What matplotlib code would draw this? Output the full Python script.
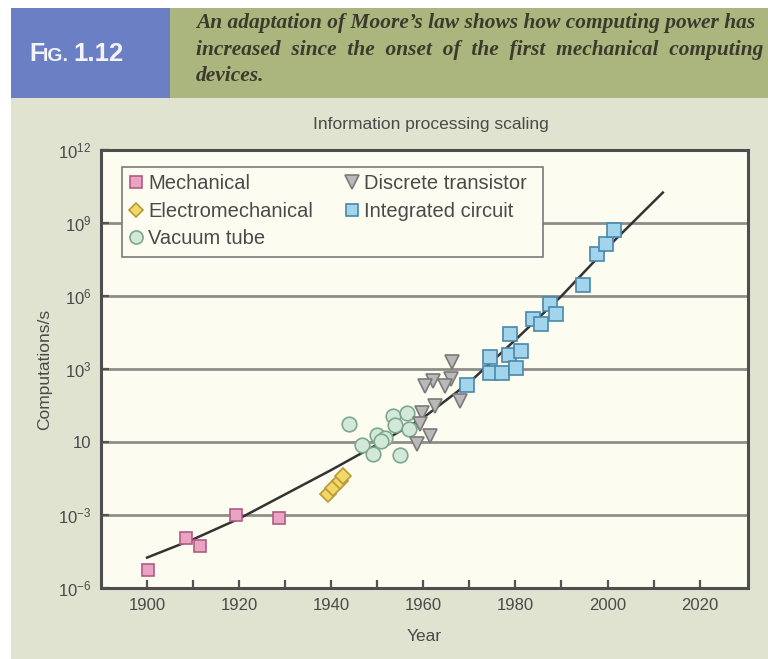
import numpy as np
import matplotlib
matplotlib.use("Agg")
import matplotlib.pyplot as plt
from matplotlib.patches import Rectangle

plt.rcParams['font.family'] = ['Liberation Sans', 'DejaVu Sans']
plt.rcParams['mathtext.fontset'] = 'custom'
plt.rcParams['mathtext.rm'] = 'Liberation Sans'
plt.rcParams['mathtext.it'] = 'Liberation Sans'

# ---- data (log10 of computations/s) ----
mech_year = [1900.1, 1908.5, 1911.5, 1919.3, 1928.7]
mech_log = [-5.26, -3.93, -4.27, -2.99, -3.14]

electro_year = [1939.4, 1940.3, 1942.0, 1942.5]
electro_log = [-2.15, -1.88, -1.60, -1.40]

tube_year = [1943.9, 1946.7, 1949.0, 1949.9, 1951.7, 1953.5, 1953.9, 1956.5, 1956.8, 1955.0, 1950.9]
tube_log = [0.72, -0.14, -0.51, 0.28, 0.18, 1.07, 0.69, 1.20, 0.52, -0.55, 0.04]

trans_year = [1966.2, 1965.9, 1962.2, 1960.4, 1964.8, 1968.0, 1962.6, 1959.7, 1959.3, 1961.5, 1958.6]
trans_log = [3.29, 2.58, 2.51, 2.30, 2.30, 1.69, 1.48, 1.20, 0.73, 0.25, -0.09]

ic_year = [1969.5, 1974.4, 1974.4, 1977.1, 1978.6, 1978.8, 1980.2, 1981.2, 1983.8,
           1985.6, 1987.6, 1988.9, 1994.7, 1997.8, 1999.6, 2001.4]
ic_log = [2.33, 3.49, 2.85, 2.85, 3.58, 4.45, 3.03, 3.74, 5.04,
          4.86, 5.66, 5.27, 6.45, 7.71, 8.13, 8.70]

curve_year = [1900, 1910, 1920, 1930, 1940, 1950, 1960, 1970, 1980, 1990, 2000, 2012]
curve_log = [-4.75, -4.0, -3.15, -2.15, -1.15, -0.1, 1.0, 2.45, 4.2, 6.0, 8.0, 10.25]

ytick_vals = [1e-6, 1e-3, 1e0, 1e3, 1e6, 1e9, 1e12]
ytick_labels = [r'$10^{-6}$', r'$10^{-3}$', '10', r'$10^{3}$', r'$10^{6}$', r'$10^{9}$', r'$10^{12}$']
xtick_vals = [1900, 1920, 1940, 1960, 1980, 2000, 2020]

W, H = 768, 659
fig = plt.figure(figsize=(W / 100, H / 100), dpi=100)
fig.patch.set_facecolor('white')

def frect(x0, y0, x1, y1, color):
    fig.patches.append(Rectangle((x0 / W, 1 - y1 / H), (x1 - x0) / W, (y1 - y0) / H,
                                 transform=fig.transFigure, facecolor=color,
                                 edgecolor='none', zorder=-10))

frect(11, 98, 768, 659, '#dfe3d0')
frect(11, 8, 170, 98, '#6b7fc4')
frect(170, 8, 768, 98, '#aab67d')

# Fig label
lab = dict(color='#f4f4f8', va='baseline', ha='left', fontweight='bold')
fig.text(29 / W, 1 - 61 / H, 'F', fontsize=18, **lab)
fig.text(43 / W, 1 - 61 / H, 'IG.', fontsize=14, **lab)
fig.text(73 / W, 1 - 61 / H, '1.12', fontsize=18.5, **lab)

hdr = dict(fontsize=15.4, color='#3c3a2c', style='italic', fontweight='semibold',
           family=['Liberation Serif', 'DejaVu Serif'], va='baseline', ha='left')
fig.text(196 / W, 1 - 28 / H, "An adaptation of Moore\u2019s law shows how computing power has", **hdr)
fig.text(196 / W, 1 - 55 / H, "increased  since  the  onset  of  the  first  mechanical  computing", **hdr)
fig.text(196 / W, 1 - 81 / H, "devices.", **hdr)

fig.text(431 / W, 1 - 124 / H, 'Information processing scaling', fontsize=12.5,
         color='#4a4a4a', ha='center', va='center')

ax = fig.add_axes([101 / W, 1 - 588 / H, (748 - 101) / W, (588 - 150) / H])
ax.set_facecolor('#fdfcf1')
ax.set_yscale('log')
ax.set_xlim(1890, 2030.5)
ax.set_ylim(1e-6, 1e12)

for v in [1e-3, 1e0, 1e3, 1e6, 1e9]:
    ax.axhline(v, color='#8e8e88', lw=2.0, zorder=1)

ax.plot(curve_year, 10 ** np.array(curve_log), color='#333333', lw=1.8, zorder=2)

ms = dict(linestyle='none', markeredgewidth=1.2, zorder=3)
ax.plot(mech_year, 10 ** np.array(mech_log), marker='s', markersize=9,
        markerfacecolor='#e9a4c4', markeredgecolor='#b25a85', label='Mechanical', **ms)
ax.plot(electro_year, 10 ** np.array(electro_log), marker='D', markersize=8,
        markerfacecolor='#f3d867', markeredgecolor='#b89a36', label='Electromechanical', **ms)
ax.plot(tube_year, 10 ** np.array(tube_log), marker='o', markersize=10.5,
        markerfacecolor='#d2e9da', markeredgecolor='#7ea78e', label='Vacuum tube', **ms)
ax.plot(trans_year, 10 ** np.array(trans_log), marker='v', markersize=10.5,
        markerfacecolor='#b9b9b9', markeredgecolor='#7a7a7a', label='Discrete transistor', **ms)
ax.plot(ic_year, 10 ** np.array(ic_log), marker='s', markersize=9.5,
        markerfacecolor='#a2d5ec', markeredgecolor='#4a87aa', label='Integrated circuit', **ms)

ax.set_yticks(ytick_vals)
ax.set_yticklabels(ytick_labels)
ax.yaxis.set_minor_locator(matplotlib.ticker.NullLocator())
ax.set_xticks(xtick_vals)
ax.set_xticks(np.arange(1900, 2030, 10), minor=True)
ax.tick_params(axis='both', which='both', direction='in', length=6, width=1.6,
               color='#555555', labelsize=12, labelcolor='#4a4a4a', pad=7)

for s in ax.spines.values():
    s.set_color('#4e4e4e')
    s.set_linewidth(2.2)

ax.set_xlabel('Year', fontsize=12.5, color='#4a4a4a', labelpad=12)
ax.set_ylabel('Computations/s', fontsize=12.5, color='#4a4a4a', labelpad=4)

# legend frame (drawn as a patch so the padding matches the reference)
x0, x1 = (122 - 101) / 647, (543 - 101) / 647
y0, y1 = (588 - 257) / 438, (588 - 167) / 438
ax.add_patch(Rectangle((x0, y0), x1 - x0, y1 - y0, transform=ax.transAxes,
                       facecolor='#fdfcf1', edgecolor='#7a7a7a', lw=1.2, zorder=4))

leg = ax.legend(ncol=2, loc='upper left', bbox_to_anchor=(x0, (588 - 168) / 438),
                fontsize=14.5, frameon=False, borderpad=0.3,
                handletextpad=0.2, handlelength=0.8, columnspacing=1.55,
                labelspacing=0.43, borderaxespad=0, markerscale=0.9)
leg.set_zorder(5)
for t in leg.get_texts():
    t.set_color('#4a4a4a')

fig.savefig('out.png', dpi=100)
